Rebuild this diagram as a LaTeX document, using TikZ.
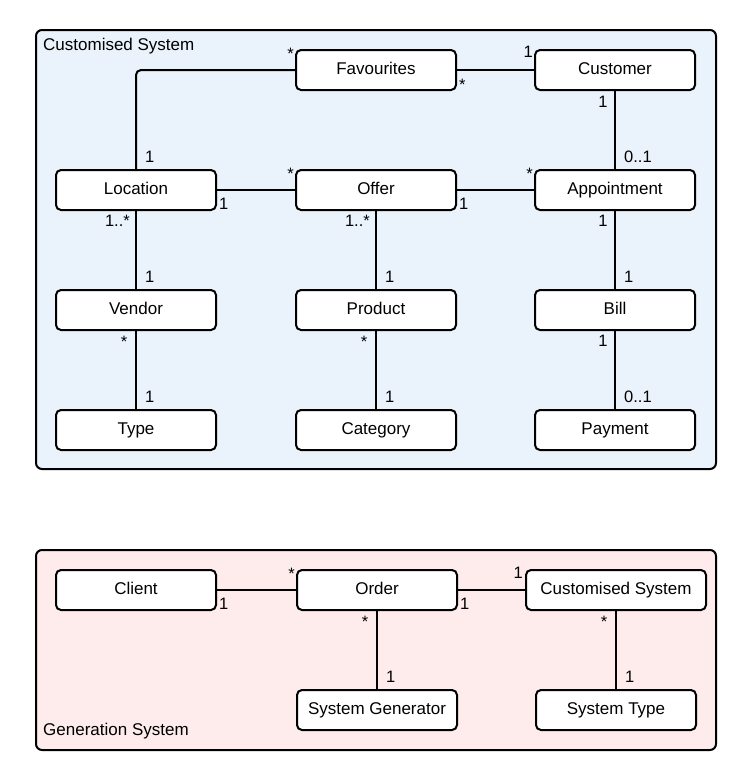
\documentclass[tikz,border=0pt]{standalone}
\usepackage{fontspec}
\setmainfont{Liberation Sans}
\usetikzlibrary{positioning}
\definecolor{custblue}{RGB}{234,242,251}
\definecolor{genpink}{RGB}{253,236,235}

\begin{document}
\begin{tikzpicture}[
    x=1pt,
    y=-1pt,
    classbox/.style={draw,line width=2pt,rounded corners=5pt,fill=white,
      minimum width=160pt,minimum height=40pt,inner sep=2pt,
      text height=12.5pt,text depth=3.5pt,
      font=\fontsize{17}{20}\selectfont},
    link/.style={line width=2pt},
    mult/.style={inner sep=0pt,font=\fontsize{16.5}{19}\selectfont},
    frame/.style={draw,line width=2pt,rounded corners=6pt},
    framelabel/.style={anchor=base west,inner sep=0pt,font=\fontsize{17}{20}\selectfont}
]
  \useasboundingbox (0,0) rectangle (752,780);

  % the two packages
  \draw[frame,fill=custblue] (36,30) rectangle (716,469);
  \draw[frame,fill=genpink] (36,550) rectangle (716,750);
  \node[framelabel] (custlbl) at (43,50) {Customised System};
  \node[framelabel] (genlbl) at (43,735) {Generation System};

  % customised system classes
  \node[classbox] (fav)  at (376,70) {Favourites};
  \node[classbox] (cust) at (615,70) {Customer};
  \node[classbox] (loc)  at (136,190) {Location};
  \node[classbox] (offer) at (376,190) {Offer};
  \node[classbox] (appt) at (615,190) {Appointment};
  \node[classbox] (vend) at (136,310) {Vendor};
  \node[classbox] (prod) at (376,310) {Product};
  \node[classbox] (bill) at (615,310) {Bill};
  \node[classbox] (type) at (136,430) {Type};
  \node[classbox] (cat)  at (376,430) {Category};
  \node[classbox] (pay)  at (615,430) {Payment};

  % generation system classes
  \node[classbox] (client) at (136,590) {Client};
  \node[classbox] (order)  at (377,590) {Order};
  \node[classbox,minimum width=180pt] (csys) at (616,590) {Customised System};
  \node[classbox] (sgen)   at (377,710) {System Generator};
  \node[classbox] (stype)  at (616,710) {System Type};

  % associations
  \draw[link,rounded corners=5pt] (fav.west) -| (loc.north);
  \foreach \a/\b in {fav/cust,loc/offer,offer/appt,client/order,order/csys}
    \draw[link] (\a.east) -- (\b.west);
  \foreach \a/\b in {cust/appt,loc/vend,vend/type,offer/prod,prod/cat,
                     appt/bill,bill/pay,order/sgen,csys/stype}
    \draw[link] (\a.south) -- (\b.north);

  % multiplicities, top part
  \node[mult,anchor=base east,xshift=-1pt,yshift=-10pt] at (fav.north west) {*};
  \node[mult,anchor=base west,xshift=2pt,yshift=1pt] at (fav.south east) {*};
  \node[mult,anchor=base east,xshift=-1pt,yshift=-8pt] at (cust.north west) {1};
  \node[mult,anchor=base,xshift=-12pt,yshift=-16pt] at (cust.south) {1};
  \node[mult,anchor=base west,xshift=9pt,yshift=7pt] at (appt.north) {0..1};
  \node[mult,anchor=base west,xshift=9pt,yshift=7pt] at (loc.north) {1};

  \node[mult,anchor=base west,xshift=2pt,yshift=1.5pt] at (loc.south east) {1};
  \node[mult,anchor=base east,xshift=-1pt,yshift=-10pt] at (offer.north west) {*};
  \node[mult,anchor=base west,xshift=2pt,yshift=1.5pt] at (offer.south east) {1};
  \node[mult,anchor=base east,xshift=-1pt,yshift=-10pt] at (appt.north west) {*};

  \node[mult,anchor=base east,xshift=-6pt,yshift=-15pt] at (loc.south) {1..*};
  \node[mult,anchor=base west,xshift=9pt,yshift=7pt] at (vend.north) {1};
  \node[mult,anchor=base,xshift=-12pt,yshift=-16pt] at (vend.south) {*};
  \node[mult,anchor=base west,xshift=9pt,yshift=7pt] at (type.north) {1};

  \node[mult,anchor=base east,xshift=-6pt,yshift=-15pt] at (offer.south) {1..*};
  \node[mult,anchor=base west,xshift=9pt,yshift=7pt] at (prod.north) {1};
  \node[mult,anchor=base,xshift=-12pt,yshift=-16pt] at (prod.south) {*};
  \node[mult,anchor=base west,xshift=9pt,yshift=7pt] at (cat.north) {1};

  \node[mult,anchor=base,xshift=-12pt,yshift=-15pt] at (appt.south) {1};
  \node[mult,anchor=base west,xshift=9pt,yshift=7pt] at (bill.north) {1};
  \node[mult,anchor=base,xshift=-12pt,yshift=-15pt] at (bill.south) {1};
  \node[mult,anchor=base west,xshift=9pt,yshift=7pt] at (pay.north) {0..1};

  % multiplicities, generation system
  \node[mult,anchor=base west,xshift=2pt,yshift=1.5pt] at (client.south east) {1};
  \node[mult,anchor=base east,xshift=-1pt,yshift=-10pt] at (order.north west) {*};
  \node[mult,anchor=base west,xshift=2pt,yshift=1.5pt] at (order.south east) {1};
  \node[mult,anchor=base east,xshift=-2pt,yshift=-9pt] at (csys.north west) {1};
  \node[mult,anchor=base,xshift=-12pt,yshift=-16pt] at (order.south) {*};
  \node[mult,anchor=base west,xshift=9pt,yshift=7pt] at (sgen.north) {1};
  \node[mult,anchor=base,xshift=-12pt,yshift=-16pt] at (csys.south) {*};
  \node[mult,anchor=base west,xshift=9pt,yshift=7pt] at (stype.north) {1};
\end{tikzpicture}
\end{document}
